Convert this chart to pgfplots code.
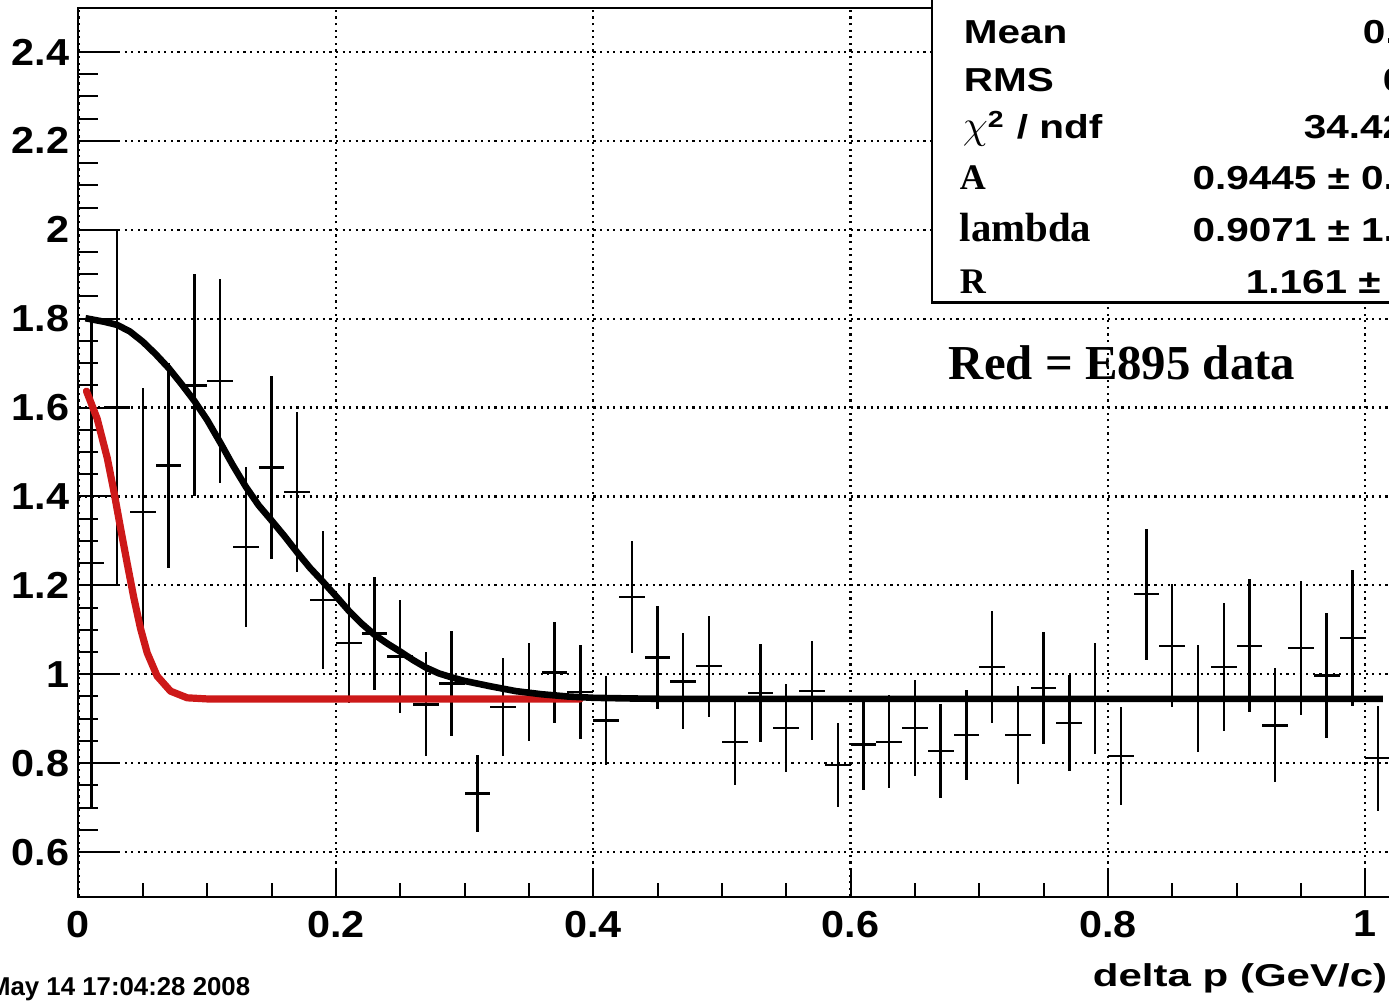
\documentclass[border=0pt]{standalone}
\usepackage{fontspec}
\usepackage{graphicx}
\usepackage{pgfplots}
\usepackage{pgfplotstable}
\pgfplotsset{compat=1.18}
\setmainfont{Liberation Sans}
\newfontfamily\tickfont[FakeStretch=1.1]{Liberation Sans}
\newfontfamily\statfont[FakeStretch=1.22]{Liberation Sans}
\newfontfamily\labfont[FakeStretch=1.33]{Liberation Sans}
\newfontfamily\serifb{Liberation Serif}
\definecolor{rootred}{RGB}{205,25,25}

\pgfplotstableread{
x y ey
0.01 1.25 0.55
0.03 1.60 0.40
0.05 1.365 0.28
0.07 1.47 0.23
0.09 1.65 0.25
0.11 1.66 0.23
0.13 1.286 0.18
0.15 1.465 0.205
0.17 1.41 0.18
0.19 1.167 0.155
0.21 1.07 0.135
0.23 1.092 0.127
0.25 1.04 0.128
0.27 0.932 0.117
0.29 0.979 0.118
0.31 0.732 0.086
0.33 0.926 0.11
0.35 0.96 0.11
0.37 1.004 0.113
0.39 0.96 0.105
0.41 0.896 0.10
0.43 1.174 0.126
0.45 1.038 0.116
0.47 0.984 0.108
0.49 1.018 0.114
0.51 0.847 0.097
0.53 0.958 0.11
0.55 0.879 0.10
0.57 0.963 0.112
0.59 0.796 0.094
0.61 0.842 0.103
0.63 0.848 0.105
0.65 0.879 0.108
0.67 0.827 0.105
0.69 0.863 0.102
0.71 1.016 0.126
0.73 0.863 0.11
0.75 0.969 0.125
0.77 0.891 0.108
0.79 0.945 0.125
0.81 0.816 0.11
0.83 1.18 0.147
0.85 1.064 0.138
0.87 0.945 0.12
0.89 1.016 0.144
0.91 1.064 0.15
0.93 0.885 0.128
0.95 1.059 0.15
0.97 0.997 0.141
0.99 1.081 0.153
1.01 0.811 0.118
}\histdata

\pgfplotstableread{
x y
0.0054 1.801
0.02 1.793
0.03 1.786
0.04 1.771
0.05 1.748
0.06 1.720
0.07 1.689
0.08 1.653
0.09 1.615
0.10 1.572
0.11 1.522
0.12 1.470
0.13 1.422
0.14 1.380
0.15 1.346
0.16 1.311
0.17 1.274
0.18 1.239
0.19 1.208
0.20 1.176
0.21 1.143
0.22 1.114
0.23 1.089
0.24 1.069
0.25 1.051
0.26 1.032
0.27 1.015
0.28 1.002
0.29 0.993
0.30 0.985
0.32 0.973
0.34 0.962
0.36 0.955
0.38 0.950
0.40 0.947
0.43 0.9455
0.46 0.9445
1.0137 0.9445
}\blackfit

\pgfplotstableread{
x y
0.0062 1.637
0.0145 1.575
0.0223 1.487
0.0274 1.413
0.0326 1.330
0.0378 1.250
0.0430 1.172
0.0482 1.103
0.0534 1.048
0.0611 0.996
0.0715 0.962
0.0845 0.947
0.10 0.9445
0.39 0.9445
}\redfit

\begin{document}
\begin{tikzpicture}
\begin{axis}[
  at={(0,0)}, anchor=south west, scale only axis,
  width=328.125pt, height=222.25pt,
  xmin=0, xmax=1.02, ymin=0.5, ymax=2.5,
  xtick={0,0.2,0.4,0.6,0.8,1.0},
  xticklabels={0,0.2,0.4,0.6,0.8,1},
  ytick={0.6,0.8,1.0,1.2,1.4,1.6,1.8,2.0,2.2,2.4},
  yticklabels={0.6,0.8,1,1.2,1.4,1.6,1.8,2,2.2,2.4},
  minor tick num=3,
  tick pos=left, tick align=inside,
  axis line style={black, line width=0.5pt},
  every tick/.style={black, line width=0.5pt},
  major tick length=10pt, minor tick length=5pt,
  xtick style={/pgfplots/major tick length=6.7pt, /pgfplots/minor tick length=3.3pt},
  grid=major,
  major grid style={black, line width=0.55pt, dash pattern=on 0.55pt off 1.1pt},
  /pgf/number format/assume math mode=true,
  xticklabel style={font=\tickfont\bfseries\fontsize{9.4}{10}\selectfont, inner sep=0pt, anchor=north},
  yticklabel style={font=\tickfont\bfseries\fontsize{9.4}{10}\selectfont, inner sep=0pt, anchor=east},
  xticklabel shift=3.4pt,
  yticklabel shift=2.1pt,
  xlabel={delta p (GeV/c)},
  every axis x label/.style={at={(rel axis cs:0.9977,0)}, anchor=base east, yshift=-22.6pt, inner sep=0pt,
     font=\labfont\bfseries\fontsize{7.9}{9}\selectfont},
  clip=false,
]
\addplot[draw=none, mark=none,
  error bars/.cd, x dir=both, x fixed=0.01, y dir=both, y explicit, error mark=none,
  error bar style={draw=black, line width=0.6pt, solid}]
  table[x=x, y=y, y error=ey] {\histdata};
\addplot[rootred, line width=1.8pt, line join=round, line cap=round] table[x=x, y=y] {\redfit};
\addplot[black, line width=1.65pt, line join=round] table[x=x, y=y] {\blackfit};
\end{axis}
\begin{scope}[x=0.25pt, y=-0.25pt, shift={(-19.625pt,224.125pt)}]
  \draw[fill=white, line width=0.6pt] (932,302.7) rectangle (1520,-80);
  \tikzset{st/.style={anchor=base west, inner sep=0pt, font=\statfont\bfseries\fontsize{8.3}{10}\selectfont},
           sr/.style={anchor=base west, inner sep=0pt, font=\serifb\bfseries\fontsize{9}{10}\selectfont}}
  \node[st] at (963,44) {Mean};
  \node[st] at (963,91.7) {RMS};
  \node[st] at (962,139) {{\fontsize{10}{10}\selectfont$\chi$}\textsuperscript{2} / ndf};
  \node[sr] at (959,190) {A};
  \node[sr, font=\serifb\bfseries\fontsize{10.2}{11}\selectfont] at (959,241.7) {lambda};
  \node[sr] at (959,293.3) {R};
  \node[st] at (1362,43.3) {0.5087};
  \node[st] at (1382,91.7) {0.2936};
  \node[st] at (1303,139) {34.42 / 48};
  \node[st] at (1191.7,190) {0.9445 ± 0.0153};
  \node[st] at (1191.7,241.7) {0.9071 ± 1.329};
  \node[st] at (1245,293.3) {1.161 ± 0.512};
  \node[anchor=base west, inner sep=0pt, font=\serifb\bfseries\fontsize{12.2}{14}\selectfont] at (948,380) {Red = E895 data};
  \node[anchor=base east, inner sep=0pt, font=\bfseries\fontsize{6.45}{8}\selectfont] at (251,995) {Wed May 14 17:04:28 2008};
\end{scope}
\pgfresetboundingbox
\begin{scope}[x=0.25pt, y=-0.25pt, shift={(-19.625pt,224.125pt)}]
  \path[use as bounding box] (0,0) rectangle (1389,1006);
\end{scope}
\end{tikzpicture}
\end{document}
